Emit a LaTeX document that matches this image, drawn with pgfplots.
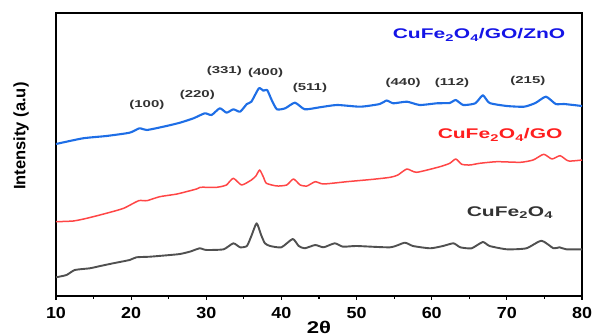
\documentclass[border=0pt]{standalone}
\usepackage{pgfplots}
\pgfplotsset{compat=1.18}
\usepackage{fontspec}
\setmainfont{Liberation Sans}
\newfontfamily\widefont[FakeStretch=1.5]{Liberation Sans}
\newfontfamily\midfont[FakeStretch=1.3]{Liberation Sans}
\newfontfamily\tickfont[FakeStretch=1.12]{Liberation Sans}
\definecolor{cblue}{RGB}{30,110,230}
\definecolor{lblue}{RGB}{20,20,230}
\definecolor{cred}{RGB}{255,70,70}
\definecolor{lred}{RGB}{255,30,30}
\definecolor{cgray}{RGB}{80,80,80}
\definecolor{tgray}{RGB}{50,50,50}
\begin{document}
\begin{tikzpicture}
\begin{axis}[
  scale only axis, width=526pt, height=283pt,
  xmin=10, xmax=80, ymin=0, ymax=283,
  xtick={10,20,...,80}, minor x tick num=1, xtick pos=bottom, ytick=\empty,
  tick align=outside, major tick length=4pt, minor tick length=3pt,
  tick style={line width=1.2pt, black},
  axis line style={line width=1.6pt},
  /pgf/number format/assume math mode=true,
  xticklabel style={font=\tickfont\bfseries\fontsize{16}{16}\selectfont, yshift=-4pt},
  xlabel={2θ},
  every axis x label/.style={at={(axis description cs:0.5,0)}, anchor=center, yshift=-31pt, font=\midfont\bfseries\fontsize{17}{17}\selectfont},
  ylabel={Intensity (a.u)},
  every axis y label/.style={at={(axis description cs:-0.0665,0.565)}, anchor=center, rotate=90, font=\bfseries\fontsize{16.5}{16.5}\selectfont},
  every axis plot/.append style={smooth, tension=0.35, line join=round},
]
% CuFe2O4
\addplot[cgray, line width=1.9pt] coordinates {
(10,18.7) (11.4,21) (12.5,26) (14.5,27.7) (15.9,30) (17.6,32.7) (19.8,36) (20.7,38.7)
(22.5,39.3) (25.2,41) (26.5,42) (27.8,44.3) (29.1,47.7) (29.6,46.7) (30.1,46) (32.3,46.7)
(33.6,52.7) (34.5,48.7) (35.4,50) (36.0,60) (36.7,72.7) (37.3,61) (37.8,52.7) (38.5,50)
(40.0,48.7) (41.5,57) (42.3,50) (43.1,47.7) (44.5,51) (45.6,48.7) (47.1,52.7) (48.2,49.3)
(50.0,50) (54.5,48.7) (56.4,53.3) (57.5,50) (59.8,47.7) (61.5,50) (62.9,52.7) (63.8,48.7)
(65.3,47.7) (66.8,54) (67.7,50) (70.0,46.7) (72.6,47.7) (74.6,55.3) (76.2,47.7) (77.0,48.7)
(77.9,46.7) (80,46.7)
};
% CuFe2O4/GO
\addplot[cred, line width=1.5pt] coordinates {
(10,74.3) (12.3,75) (14.1,77.7) (16.7,82.7) (19.0,87.7) (21.0,95.3) (22.1,95.3) (23.8,99.3)
(26.1,102) (28.7,107) (29.2,108.7) (31.4,108.7) (32.3,110) (32.7,111) (33.6,117.7) (34.7,111)
(36.0,116) (36.6,120) (37.1,126) (37.6,119) (38.0,112.7) (39.4,110) (40.7,111) (41.6,117)
(42.5,111) (43.4,110) (44.5,114.3) (45.6,112) (48.7,114.3) (52.2,116.7) (54.5,118.7) (55.5,121)
(56.7,127) (58.0,123.7) (61.1,129.3) (62.4,132.7) (63.2,137) (64.0,131.7) (65.1,131) (66.4,132.7)
(68.7,134.3) (71.8,133.7) (73.5,136) (74.9,141.7) (76.0,137) (77.1,140.3) (78.2,135) (80,136)
};
% CuFe2O4/GO/ZnO
\addplot[cblue, line width=2.1pt] coordinates {
(10,152) (13.6,157.7) (16.7,160) (19.8,163.3) (21.1,167.7) (22.1,166) (24.7,170) (26.5,173.3)
(28.3,177.7) (29.8,182.7) (30.7,181) (31.8,187.7) (32.7,183.3) (33.6,186.7) (34.5,184.3) (35.4,192)
(36.0,194.3) (37.0,207.7) (37.6,205.3) (38.1,206) (38.7,196) (39.4,186.7) (40.5,187.7) (41.8,193.3)
(43.1,186.7) (45.1,188.7) (47.4,191) (50.5,189.3) (53.1,192) (54.0,195.5) (54.9,192.7) (56.7,194.3)
(58.4,191) (60.7,192.7) (62.4,193) (63.2,196) (64.2,191) (65.8,192.7) (66.8,200.7) (67.7,193)
(70.0,190) (72.3,189.3) (73.8,193) (75.2,199.3) (76.5,192) (77.6,192) (80,190)
};
\node[font=\widefont\bfseries\fontsize{14}{14}\selectfont, text=lblue] at (axis cs:66.3,261) {CuFe\textsubscript{2}O\textsubscript{4}/GO/ZnO};
\node[font=\widefont\bfseries\fontsize{14}{14}\selectfont, text=lred] at (axis cs:69.1,161) {CuFe\textsubscript{2}O\textsubscript{4}/GO};
\node[font=\widefont\bfseries\fontsize{14}{14}\selectfont, text=tgray] at (axis cs:70.4,83) {CuFe\textsubscript{2}O\textsubscript{4}};
\begin{scope}[every node/.style={font=\widefont\bfseries\fontsize{10}{10}\selectfont, text=tgray}]
\node at (axis cs:22.1,191) {(100)};
\node at (axis cs:28.8,201) {(220)};
\node at (axis cs:32.4,225) {(331)};
\node at (axis cs:37.9,223) {(400)};
\node at (axis cs:43.8,208) {(511)};
\node at (axis cs:56.2,213) {(440)};
\node at (axis cs:62.7,213) {(112)};
\node at (axis cs:72.8,215) {(215)};
\end{scope}
\end{axis}
\pgfresetboundingbox
\path[use as bounding box] (-56pt,-40pt) rectangle (537pt,296pt);
\end{tikzpicture}
\end{document}
